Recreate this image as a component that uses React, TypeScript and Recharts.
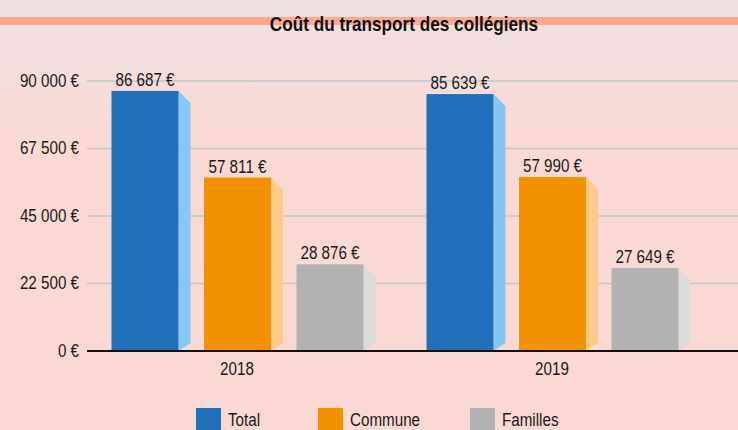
import React from "react";
import { BarChart, Bar, XAxis, YAxis, CartesianGrid, LabelList } from "recharts";

const years = ["2018", "2019"];
const totalValues = [86687, 85639];
const communeValues = [57811, 57990];
const famillesValues = [28876, 27649];
const yTicks = [0, 22500, 45000, 67500, 90000];
const seriesNames = ["Total", "Commune", "Familles"];
const title = "Coût du transport des collégiens";

const data = years.map((y, i) => ({
  year: y,
  Total: totalValues[i],
  Commune: communeValues[i],
  Familles: famillesValues[i],
}));

const colors: Record<string, { front: string; side: string }> = {
  Total: { front: "#1f70b8", side: "#86c8f1" },
  Commune: { front: "#f39200", side: "#fdca8c" },
  Familles: { front: "#b2b2b2", side: "#dcdcdc" },
};

// legend layout (left edge of each swatch)
const legendLeft = [196, 318, 470];

const FONT = "'Liberation Sans', Arial, sans-serif";
const SX = 0.8;
const TXT = "#1a1a1a";

const fmt = (v: number) => String(v).replace(/\B(?=(\d{3})+(?!\d))/g, " ") + " €";

const make3D = (front: string, side: string) => (props: any) => {
  const { x, y, width, height } = props;
  if (height <= 0) return null;
  const d = 12;
  const r = x + width;
  const b = y + height;
  return (
    <g>
      <polygon points={`${r},${y} ${r + d},${y + d} ${r + d},${b - 8} ${r},${b}`} fill={side} />
      <rect x={x} y={y} width={width} height={height} fill={front} />
    </g>
  );
};

const YTick = (props: any) => {
  const { x, y, payload } = props;
  return (
    <text
      transform={`translate(${x},${y}) scale(${SX},1)`}
      textAnchor="end"
      dy={5.5}
      fontFamily={FONT}
      fontSize={19}
      fill={TXT}
    >
      {fmt(payload.value)}
    </text>
  );
};

const XTick = (props: any) => {
  const { x, y, payload } = props;
  return (
    <text
      transform={`translate(${x},${y}) scale(${SX},1)`}
      textAnchor="middle"
      dy={24.5}
      fontFamily={FONT}
      fontSize={19}
      fill={TXT}
    >
      {payload.value}
    </text>
  );
};

const TopLabel = (props: any) => {
  const { x, y, width, value } = props;
  return (
    <text
      transform={`translate(${x + width / 2},${y - 5}) scale(${SX},1)`}
      textAnchor="middle"
      fontFamily={FONT}
      fontSize={19}
      fill={TXT}
    >
      {fmt(Number(value))}
    </text>
  );
};

export default function App() {
  return (
    <div
      style={{
        position: "fixed",
        left: 0,
        top: 0,
        width: 738,
        height: 430,
        overflow: "hidden",
        background:
          "linear-gradient(180deg, #f0e0e2 0px, #f2dfdf 60px, #f8dbd7 110px, #fad9d4 160px, #fad9d4 430px)",
      }}
    >
      <div
        style={{
          position: "absolute",
          left: 0,
          top: 17,
          width: 738,
          height: 8,
          background: "#f9aa90",
        }}
      />
      <div style={{ position: "absolute", left: 0, top: 0 }}>
        <BarChart
          width={738}
          height={430}
          data={data}
          margin={{ top: 81, right: 0, left: 0, bottom: 49 }}
          barGap={25.5}
        >
          <CartesianGrid vertical={false} stroke="#c3c6ca" strokeWidth={1.5} />
          <XAxis
            dataKey="year"
            height={30}
            tickLine={false}
            axisLine={{ stroke: "#111", strokeWidth: 2 }}
            tickSize={0}
            tickMargin={0}
            padding={{ left: -7.5, right: 28.5 }}
            tick={<XTick />}
          />
          <YAxis
            width={87}
            domain={[0, 90000]}
            ticks={yTicks}
            axisLine={false}
            tickLine={false}
            tickSize={0}
            tickMargin={8}
            tick={<YTick />}
          />
          {seriesNames.map((s) => (
            <Bar
              key={s}
              dataKey={s}
              barSize={67}
              isAnimationActive={false}
              shape={make3D(colors[s].front, colors[s].side)}
            >
              <LabelList dataKey={s} content={<TopLabel />} />
            </Bar>
          ))}
        </BarChart>
      </div>
      <svg width={738} height={430} style={{ position: "absolute", left: 0, top: 0 }}>
        <text
          transform={`translate(404,31) scale(0.86,1)`}
          textAnchor="middle"
          fontFamily={FONT}
          fontWeight="bold"
          fontSize={20}
          fill="#111"
        >
          {title}
        </text>
        {seriesNames.map((s, i) => (
          <g key={s}>
            <rect x={legendLeft[i]} y={408} width={25} height={25} fill={colors[s].front} />
            <text
              transform={`translate(${legendLeft[i] + 32},425.5) scale(${SX},1)`}
              fontFamily={FONT}
              fontSize={19}
              fill={TXT}
            >
              {s}
            </text>
          </g>
        ))}
      </svg>
    </div>
  );
}
